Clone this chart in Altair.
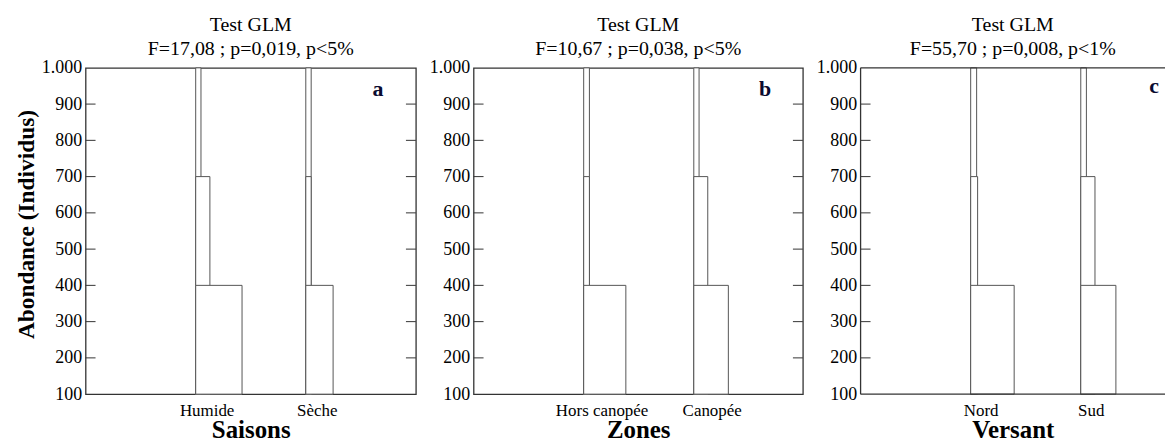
import altair as alt
import pandas as pd

# ---- data ----
level_tops = [1000, 700, 400]          # top of each stacked frame
baseline = 100
y_ticks = [100, 200, 300, 400, 500, 600, 700, 800, 900, 1000]

saisons_cats = ["Humide", "Sèche"]
saisons_widths = [[0.048, 0.129, 0.421], [0.049, 0.049, 0.248]]

zones_cats = ["Hors canopée", "Canopée"]
zones_widths = [[0.052, 0.052, 0.383], [0.048, 0.127, 0.314]]

versant_cats = ["Nord", "Sud"]
versant_widths = [[0.054, 0.063, 0.395], [0.051, 0.129, 0.319]]

titles = [
    ["Test GLM", "F=17,08 ; p=0,019, p<5%"],
    ["Test GLM", "F=10,67 ; p=0,038, p<5%"],
    ["Test GLM", "F=55,70 ; p=0,008, p<1%"],
]
x_titles = ["Saisons", "Zones", "Versant"]
letters = ["a", "b", "c"]

FONT = "Liberation Serif"
H = 328
UNIT = 332 / 3.0          # pixels per x unit
EDGE = "#333333"


def panel(cats, widths, title_lines, xtitle, letter, offsets, show_ytitle,
          width, letter_xy, full_frame):
    rows = []
    for i, c in enumerate(cats):
        for top, w in zip(level_tops, widths[i]):
            rows.append({"cat": c, "pos": i + 1, "end": i + 1 + w,
                         "top": top, "base": baseline})
    df = pd.DataFrame(rows)
    xscale = alt.Scale(domain=[0, width / UNIT], nice=False, zero=False)
    yscale = alt.Scale(domain=[100, 1000], nice=False, zero=False)
    label_expr = "datum.value == 1 ? '%s' : '%s'" % (cats[0], cats[1])

    y_axis = alt.Axis(values=y_ticks,
                      labelExpr="datum.value == 1000 ? '1.000' : datum.label",
                      ticks=False, domain=False, grid=False,
                      labelFont=FONT, labelFontSize=18, labelColor="black",
                      labelPadding=4,
                      title="Abondance (Individus)" if show_ytitle else "",
                      titleFont=FONT, titleFontSize=23.5, titleFontWeight="bold",
                      titleColor="black", titlePadding=3, titleY=157)
    y_enc = alt.Y("top:Q", scale=yscale, axis=y_axis)

    bars = alt.Chart(df).mark_rect(fill="white", stroke="#555555", strokeWidth=1).encode(
        x=alt.X("pos:Q", scale=xscale,
                axis=alt.Axis(values=[1, 2], labelExpr=label_expr,
                              labelOffset=offsets,
                              ticks=False, domain=False, grid=False,
                              labelFont=FONT, labelFontSize=17, labelColor="black",
                              labelPadding=8, title=xtitle, titleFont=FONT,
                              titleFontSize=25, titleFontWeight="bold",
                              titleColor="black", titlePadding=0)),
        x2="end:Q",
        y=y_enc,
        y2="base:Q",
    )

    tdf = pd.DataFrame({"top": y_ticks[1:-1]})
    layers = [bars]
    layers.append(alt.Chart(tdf).mark_rule(color=EDGE, strokeWidth=1).encode(
        x=alt.value(0), x2=alt.value(10), y=y_enc))
    if full_frame:
        layers.append(alt.Chart(tdf).mark_rule(color=EDGE, strokeWidth=1).encode(
            x=alt.value(width - 10), x2=alt.value(width), y=y_enc))
    else:
        fr = alt.Chart(pd.DataFrame({"k": [0]})).mark_rule(color=EDGE, strokeWidth=1.3)
        layers.append(fr.encode(x=alt.value(0), x2=alt.value(width), y=alt.value(0)))
        layers.append(fr.encode(x=alt.value(0), x2=alt.value(width), y=alt.value(H)))
        layers.append(fr.encode(x=alt.value(0), y=alt.value(0), y2=alt.value(H)))
    layers.append(alt.Chart(pd.DataFrame({"t": [letter]})).mark_text(
        font=FONT, fontSize=22, fontWeight="bold", color="#0a0a30",
        align="center", baseline="middle").encode(
        x=alt.value(letter_xy[0]), y=alt.value(letter_xy[1]), text="t:N"))

    props = dict(width=width, height=H,
                 title=alt.Title(title_lines, font=FONT, fontSize=20, fontWeight="normal",
                                 lineHeight=24, offset=0, anchor="middle", color="black",
                                 frame="group"))
    if not full_frame:
        props["view"] = alt.ViewBackground(stroke="transparent")
    return alt.layer(*layers).properties(**props)


pa = panel(saisons_cats, saisons_widths, titles[0], x_titles[0], letters[0], 11, True,
           332, (294, 21), True)
pb = panel(zones_cats, zones_widths, titles[1], x_titles[1], letters[1], 18, False,
           331, (293, 21), True)
pc = panel(versant_cats, versant_widths, titles[2], x_titles[2], letters[2], 10, False,
           306, (295, 18), False)

chart = alt.hconcat(pa, pb, pc, spacing=10, background="white",
                    padding={"left": 5, "top": 5, "right": 0, "bottom": 5}).configure_view(
    stroke=EDGE, strokeWidth=1.3)

chart.save("out.html", embed_options={"renderer": "svg", "actions": False})
